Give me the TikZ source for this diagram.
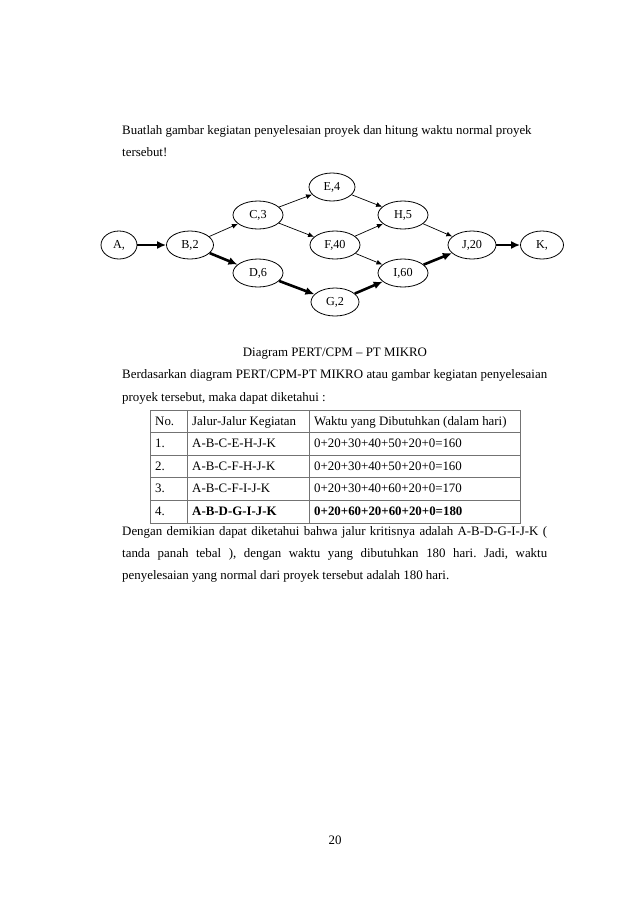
\documentclass[tikz,border=0pt]{standalone}
\usepackage{fontspec}
\setmainfont{Liberation Serif}
\usetikzlibrary{shapes.geometric,arrows.meta}
\frenchspacing

\newcommand{\bodysize}{\fontsize{12.9pt}{15pt}\selectfont}
\newcommand{\evsize}{\fontsize{12.2pt}{14pt}\selectfont}
\newcommand{\justline}[1]{\makebox[425pt][s]{#1}}

\begin{document}
\begin{tikzpicture}[x=1pt, y=-1pt,
		evstyle/.style={draw, ellipse, line width=0.8pt, inner sep=0pt, minimum height=28pt, font=\evsize},
		thinarrow/.style={-{Latex[length=6pt,width=5pt]}, line width=0.7pt},
		thickarrow/.style={-{Latex[length=9pt,width=8pt]}, line width=2.6pt},
		txt/.style={anchor=base west, inner sep=0pt, font=\bodysize},
		cell/.style={anchor=base west, inner sep=0pt, font=\bodysize},
		tblline/.style={draw=black!55, line width=0.7pt}]

		\fill [white] (0,0) rectangle (638,903);
		\useasboundingbox (0,0) rectangle (638,903);

		% text above the diagram
		\node [txt] (t1) at (122,134) {Buatlah gambar kegiatan penyelesaian proyek dan hitung waktu normal proyek};
		\node [txt] (t2) at (122,156) {tersebut!};

		% events
		\node [evstyle, minimum width=36pt] (a) at (119,245) {A,};
		\node [evstyle, minimum width=47pt] (b) at (190,245) {B,2};
		\node [evstyle, minimum width=50pt] (c) at (258,215) {C,3};
		\node [evstyle, minimum width=50pt] (d) at (258,273) {D,6};
		\node [evstyle, minimum width=46pt] (e) at (332,187) {E,4};
		\node [evstyle, minimum width=50pt] (f) at (335,245) {F,40};
		\node [evstyle, minimum width=48pt] (g) at (335,302) {G,2};
		\node [evstyle, minimum width=50pt] (h) at (403,215) {H,5};
		\node [evstyle, minimum width=50pt] (i) at (403,273) {I,60};
		\node [evstyle, minimum width=48pt] (j) at (472,245) {J,20};
		\node [evstyle, minimum width=43pt] (k) at (542,245) {K,};

		\draw [thinarrow] (b) -- (c);
		\draw [thinarrow] (c) -- (e);
		\draw [thinarrow] (c) -- (f);
		\draw [thinarrow] (e) -- (h);
		\draw [thinarrow] (f) -- (h);
		\draw [thinarrow] (f) -- (i);
		\draw [thinarrow] (h) -- (j);

		\draw [thickarrow] (a) -- (b);
		\draw [thickarrow] (b) -- (d);
		\draw [thickarrow] (d) -- (g);
		\draw [thickarrow] (g) -- (i);
		\draw [thickarrow] (i) -- (j);
		\draw [thickarrow] (j) -- (k);

		\node [txt, anchor=base] (cap) at (335,356) {Diagram PERT/CPM -- PT MIKRO};
		\node [txt] (t3) at (122,378) {\justline{Berdasarkan diagram PERT/CPM-PT MIKRO atau gambar kegiatan penyelesaian}};
		\node [txt] (t4) at (122,401) {proyek tersebut, maka dapat diketahui :};

		% table
		\draw [tblline] (150,410) rectangle (520,523);
		\foreach \y in {432,455,477,500}
			\draw [tblline] (150,\y) -- (520,\y);
		\draw [tblline] (187,410) -- (187,523);
		\draw [tblline] (309,410) -- (309,523);

		\node [cell] (h1) at (155,425) {No.};
		\node [cell] (h2) at (192,425) {Jalur-Jalur Kegiatan};
		\node [cell] (h3) at (314,425) {Waktu yang Dibutuhkan (dalam hari)};
		\node [cell] (r1a) at (155,447) {1.};
		\node [cell] (r1b) at (192,447) {A-B-C-E-H-J-K};
		\node [cell] (r1c) at (314,447) {0+20+30+40+50+20+0=160};
		\node [cell] (r2a) at (155,470) {2.};
		\node [cell] (r2b) at (192,470) {A-B-C-F-H-J-K};
		\node [cell] (r2c) at (314,470) {0+20+30+40+50+20+0=160};
		\node [cell] (r3a) at (155,492) {3.};
		\node [cell] (r3b) at (192,492) {A-B-C-F-I-J-K};
		\node [cell] (r3c) at (314,492) {0+20+30+40+60+20+0=170};
		\node [cell] (r4a) at (155,515) {4.};
		\node [cell] (r4b) at (192,515) {\textbf{A-B-D-G-I-J-K}};
		\node [cell] (r4c) at (314,515) {\textbf{0+20+60+20+60+20+0=180}};

		% text below the table
		\node [txt] (t5) at (122,535) {\justline{Dengan demikian dapat diketahui bahwa jalur kritisnya adalah A-B-D-G-I-J-K (}};
		\node [txt] (t6) at (122,557) {\justline{tanda panah tebal ), dengan waktu yang dibutuhkan 180 hari. Jadi, waktu}};
		\node [txt] (t7) at (122,579) {penyelesaian yang normal dari proyek tersebut adalah 180 hari.};

		\node [txt, anchor=base] (pg) at (335,844) {20};
\end{tikzpicture}
\end{document}
